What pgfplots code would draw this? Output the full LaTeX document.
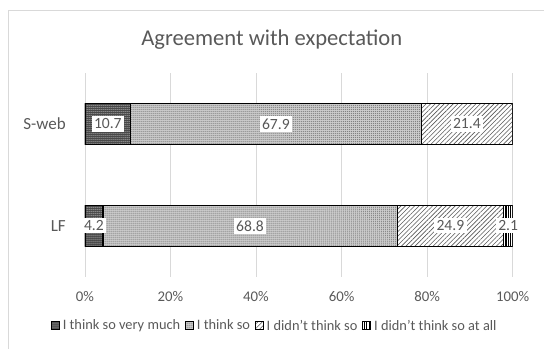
\documentclass[border=0pt]{standalone}
\usepackage{pgfplots}
\pgfplotsset{compat=1.18}
\usepackage{pgfplotstable}
\usepackage{fontspec}
\setmainfont{Carlito}
\usetikzlibrary{patterns.meta}
\definecolor{txt}{HTML}{595959}
\definecolor{gridc}{HTML}{D9D9D9}

% fills for the four answer categories
\tikzset{
  vmuch/.style={fill=black!72, postaction={pattern={Dots[radius=0.45pt,distance=2pt]}, pattern color=white}},
  tso/.style={fill=black!20, postaction={pattern={Dots[radius=0.5pt,distance=2pt]}, pattern color=black!65}},
  dnot/.style={fill=white, postaction={pattern={Lines[angle=45,distance=3.2pt,line width=0.6pt]}, pattern color=black!65}},
  dnall/.style={fill=white, postaction={pattern={Lines[angle=90,distance=2.4pt,line width=1.1pt]}, pattern color=black}},
}
% small square legend swatch
\pgfplotsset{sqlegend/.style={legend image code/.code={\draw[##1, line width=0.7pt] (0pt,-4pt) rectangle (8pt,4pt);}}}

% answers in percent; y = 0 is LF, y = 1 is S-web
\pgfplotstableread{
y  vmuch tso  dnot dnall
0  4.2   68.8 24.9 2.1
1  10.7  67.9 21.4 0
}\answers

\begin{document}
\begin{tikzpicture}[x=1pt,y=1pt]
\path (0,0) rectangle (544,349);
\draw[gridc, line width=0.8pt] (8.5,0) -- (8.5,338.5) -- (544,338.5);
\node[text=txt, font=\fontsize{22.6}{26}\selectfont] at (272,309) {Agreement with expectation};
\begin{axis}[
  at={(85pt,72pt)}, anchor=south west,
  scale only axis, width=428pt, height=204pt,
  set layers, mark layer=axis foreground,
  xbar stacked, bar width=0.4,
  xmin=0, xmax=100, ymin=-0.5, ymax=1.5,
  xtick={0,20,...,100}, xticklabels={0\%,20\%,40\%,60\%,80\%,100\%},
  ytick={0,1}, yticklabels={LF,S-web},
  axis line style={draw=none}, major tick length=0pt,
  xmajorgrids, grid style={gridc, line width=0.8pt},
  ticklabel style={text=txt},
  xticklabel style={font=\fontsize{14.8}{16}\selectfont, anchor=base, yshift=-24.5pt},
  yticklabel style={font=\fontsize{17}{19}\selectfont, anchor=east, inner sep=0pt, xshift=-19pt},
  every axis plot/.append style={draw=black, line width=1.2pt},
  point meta=explicit symbolic,
  nodes near coords={\ifdim\pgfplotspointmeta pt>0pt\colorbox{white}{\pgfplotspointmeta}\fi},
  every node near coord/.append style={anchor=center, inner sep=0pt, text=txt,
    font=\fontsize{15.6}{17}\selectfont},
  legend style={at={(0.4416,-0.240)}, anchor=center, draw=none, fill=none,
    legend columns=-1, font=\fontsize{14.4}{16}\selectfont, text=txt,
    nodes={inner xsep=0pt},
    /tikz/every odd column/.append style={column sep=3pt},
    /tikz/every even column/.append style={column sep=5pt}},
  legend cell align=left,
]
\setlength{\fboxsep}{2.5pt}
\addplot[vmuch, sqlegend] table[x=vmuch, y=y, meta=vmuch] {\answers};
\addplot[tso, sqlegend]   table[x=tso, y=y, meta=tso] {\answers};
\addplot[dnot, sqlegend]  table[x=dnot, y=y, meta=dnot] {\answers};
\addplot[dnall, sqlegend] table[x=dnall, y=y, meta=dnall] {\answers};
\legend{I think so very much, I think so, I didn't think so, I didn't think so at all}
\end{axis}
\end{tikzpicture}
\end{document}
